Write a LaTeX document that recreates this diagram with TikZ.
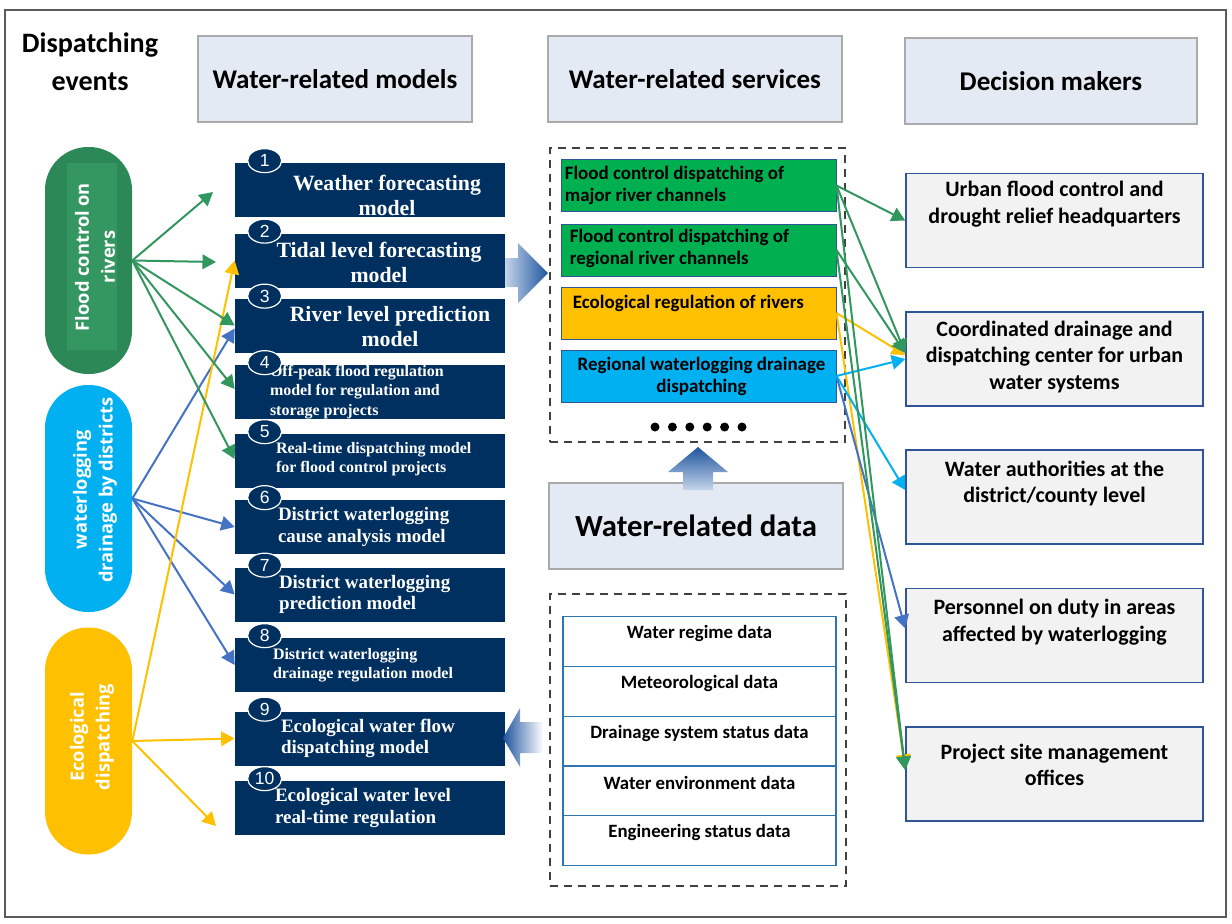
\documentclass[tikz,border=0pt]{standalone}
\usepackage{fontspec}
\setmainfont{Liberation Serif}
\setsansfont{Carlito}
\newfontfamily\pillfont{Open Sans}
\newfontfamily\numfont{Liberation Sans}
\usepackage{tikz}
\usetikzlibrary{positioning, arrows.meta, shapes.geometric}
\usepackage{xcolor}

\definecolor{navy}{RGB}{0,48,96}
\definecolor{headfill}{RGB}{228,234,243}
\definecolor{headline}{RGB}{170,170,170}
\definecolor{pillgreen}{RGB}{44,136,86}
\definecolor{pillgreenin}{RGB}{52,150,97}
\definecolor{pillcyan}{RGB}{0,176,240}
\definecolor{pillyellow}{RGB}{255,192,0}
\definecolor{srvgreen}{RGB}{0,176,80}
\definecolor{srvline}{RGB}{47,85,151}
\definecolor{rowline}{RGB}{46,117,182}
\definecolor{makerfill}{RGB}{242,242,242}
\definecolor{argreen}{RGB}{50,150,95}
\definecolor{arblue}{RGB}{68,114,196}
\definecolor{arrowdark}{RGB}{30,84,158}
\definecolor{arrowlight}{RGB}{196,212,234}
\definecolor{framegray}{RGB}{90,90,90}
\definecolor{dashgray}{RGB}{64,64,64}

\newdimen\pxu \pxu=0.02cm
\newcommand{\mbig}{\bfseries\fontsize{12.4}{14.2}\selectfont}
\newcommand{\mmid}{\bfseries\fontsize{10.8}{12.2}\selectfont}
\newcommand{\msmall}{\bfseries\fontsize{9.1}{11}\selectfont}

\begin{document}
\begin{tikzpicture}[x=0.02cm, y=-0.02cm]
    % Styles
    \tikzstyle{header} = [rectangle, draw=headline, fill=headfill, line width=1.2\pxu, minimum width=294\pxu, minimum height=86\pxu, font=\sffamily\bfseries\fontsize{15.4}{18}\selectfont]
    \tikzstyle{pill} = [rectangle, rounded corners=43\pxu, minimum width=87\pxu, minimum height=227\pxu]
    \tikzstyle{pilltext} = [rotate=90, text=white, align=center, font=\pillfont\bfseries\fontsize{10.4}{14.7}\selectfont]
    \tikzstyle{model} = [rectangle, fill=navy, minimum width=270\pxu, minimum height=54\pxu]
    \tikzstyle{mtext} = [text=white, align=center, inner sep=0pt]
    \tikzstyle{badge} = [ellipse, fill=navy, draw=white, line width=1.2\pxu, minimum width=34\pxu, minimum height=24\pxu, inner sep=0pt, text=white, font=\numfont\fontsize{10}{10}\selectfont]
    \tikzstyle{service} = [rectangle, draw=srvline, line width=1\pxu, minimum width=275\pxu, minimum height=52\pxu]
    \tikzstyle{stext} = [align=left, inner sep=0pt, font=\sffamily\bfseries\fontsize{10.8}{12.5}\selectfont]
    \tikzstyle{dashframe} = [rectangle, draw=dashgray, line width=2\pxu, dash pattern=on 8\pxu off 6\pxu]
    \tikzstyle{datarow} = [rectangle, draw=rowline, line width=1.2\pxu, minimum width=273\pxu, minimum height=49.8\pxu, outer sep=0pt]
    \tikzstyle{dtext} = [inner sep=0pt, font=\sffamily\bfseries\fontsize{10.7}{12}\selectfont]
    \tikzstyle{maker} = [rectangle, draw=srvline, fill=makerfill, line width=1.5\pxu, minimum width=297\pxu, minimum height=94\pxu]
    \tikzstyle{mkrtext} = [align=center, anchor=north, inner sep=0pt, font=\sffamily\bfseries\fontsize{12.5}{15.3}\selectfont]
    \tikzstyle{arrow} = [line width=2\pxu, -{Triangle[length=0.27cm, width=0.29cm]}]

    \useasboundingbox (0,0) rectangle (1232,924);
    \draw[framegray, line width=2\pxu] (5,10) rectangle (1226,917);

    % Title and headers
    \node[align=center, font=\sffamily\bfseries\fontsize{16}{21.5}\selectfont] (title) at (90,62) {Dispatching\\events};
    \node[header, minimum width=274\pxu] (hModels) at (335,79) {Water-related models};
    \node[header] (hServices) at (695,79) {Water-related services};
    \node[header, minimum width=292\pxu] (hMakers) at (1051,81) {Decision makers};
    \node[header, font=\sffamily\bfseries\fontsize{17.5}{20}\selectfont] (hData) at (696,526) {Water-related data};

    % Dispatching events
    \node[pill, fill=pillgreen] (pFlood) at (88.5,260.5) {};
    \fill[pillgreenin] (67,163) rectangle (117,350);
    \node[pilltext] (tFlood) at (95,257) {Flood control on\\rivers};
    \node[pill, fill=pillcyan] (pDrain) at (88.5,498.5) {};
    \node[pilltext] (tDrain) at (95,490) {waterlogging\\drainage by districts};
    \node[pill, fill=pillyellow] (pEco) at (88.5,741) {};
    \node[pilltext] (tEco) at (92,737) {Ecological\\dispatching};

    % Models
    \node[model, label={[mtext, font=\mbig, xshift=17\pxu, yshift=-5\pxu]center:Weather forecasting\\model}] (m1) at (370,190) {};
    \node[model, label={[mtext, font=\mbig, xshift=9\pxu, yshift=-1.5\pxu]center:Tidal level forecasting\\model}] (m2) at (370,260.5) {};
    \node[model, label={[mtext, font=\mbig, xshift=20\pxu, yshift=-1.5\pxu]center:River level prediction\\model}] (m3) at (370,325.5) {};
    \node[model, label={[mtext, font=\msmall, align=left, anchor=west, xshift=35\pxu]west:Off-peak flood regulation\\model for regulation and\\storage projects}] (m4) at (370,392) {};
    \node[model, label={[mtext, font=\msmall, align=left, anchor=west, xshift=41\pxu, yshift=2\pxu]west:Real-time dispatching model\\for flood control projects}] (m5) at (370,461) {};
    \node[model, label={[mtext, font=\mmid, align=left, anchor=west, xshift=43\pxu]west:District waterlogging\\cause analysis model}] (m6) at (370,527) {};
    \node[model, label={[mtext, font=\mmid, align=left, anchor=west, xshift=44\pxu]west:District waterlogging\\prediction model}] (m7) at (370,594.5) {};
    \node[model, label={[mtext, font=\msmall, align=left, anchor=west, xshift=38\pxu]west:District waterlogging\\drainage regulation model}] (m8) at (370,665) {};
    \node[model, label={[mtext, font=\mmid, align=left, anchor=west, xshift=46\pxu]west:Ecological water flow\\dispatching model}] (m9) at (370,738.5) {};
    \node[model, label={[mtext, font=\mmid, align=left, anchor=west, xshift=40\pxu]west:Ecological water level\\real-time regulation}] (m10) at (370,808) {};
    \foreach \i in {1,...,10}
        \node[badge] (b\i) at ([xshift=30\pxu, yshift=2\pxu]m\i.north west) {\i};

    % Services
    \node[dashframe, minimum width=295\pxu, minimum height=294\pxu] (srvFrame) at (697.5,295) {};
    \node[service, fill=srvgreen, label={[stext, anchor=west, xshift=4\pxu]west:Flood control dispatching of\\major river channels}] (sMajor) at (698.5,185.5) {};
    \node[service, fill=srvgreen, label={[stext, anchor=west, xshift=9\pxu, yshift=2\pxu]west:Flood control dispatching of\\regional river channels}] (sRegional) at (698.5,250) {};
    \node[service, fill=pillyellow, label={[stext, anchor=west, xshift=12\pxu, yshift=10\pxu]west:Ecological regulation of rivers}] (sEco) at (698.5,313) {};
    \node[service, fill=pillcyan, label={[stext, align=center, xshift=3\pxu]center:Regional waterlogging drainage\\dispatching}] (sDrain) at (698.5,376) {};
    \foreach \k in {0,...,5}
        \fill (655+17.4*\k,427) circle[radius=4.5\pxu];

    % Data
    \node[dashframe, minimum width=296\pxu, minimum height=292\pxu] (dataFrame) at (698,740) {};
    \node[datarow, label={[dtext, yshift=8\pxu]center:Water regime data}] (dWater) at (699.5,641.5) {};
    \node[datarow, below=0pt of dWater, label={[dtext, yshift=8\pxu]center:Meteorological data}] (dMet) {};
    \node[datarow, below=0pt of dMet, label={[dtext, yshift=8\pxu]center:Drainage system status data}] (dDrain) {};
    \node[datarow, below=0pt of dDrain, label={[dtext, yshift=8\pxu]center:Water environment data}] (dEnv) {};
    \node[datarow, below=0pt of dEnv, label={[dtext, yshift=8\pxu]center:Engineering status data}] (dEng) {};

    % Decision makers
    \node[maker, label={[mkrtext, yshift=-8\pxu]north:Urban flood control and\\drought relief headquarters}] (dUrban) at (1054.5,220.5) {};
    \node[maker, label={[mkrtext, yshift=-9\pxu]north:Coordinated drainage and\\dispatching center for urban\\water systems}] (dCenter) at (1054.5,359) {};
    \node[maker, label={[mkrtext, yshift=-11\pxu]north:Water authorities at the\\district/county level}] (dDistrict) at (1054.5,497) {};
    \node[maker, label={[mkrtext, yshift=-11\pxu]north:Personnel on duty in areas\\affected by waterlogging}] (dDuty) at (1054.5,635.5) {};
    \node[maker, label={[mkrtext, yshift=-17\pxu]north:Project site management\\offices}] (dSite) at (1054.5,774) {};

    % Block arrows
    \shade[left color=arrowlight, right color=arrowdark] (505,258) -- (518,258) -- (518,243) -- (548,273) -- (518,303) -- (518,287) -- (505,287) -- cycle;
    \shade[left color=arrowdark, right color=white] (503,738) -- (520,708) -- (520,722) -- (543,722) -- (543,753) -- (520,753) -- (520,767) -- cycle;
    \shade[top color=arrowdark, bottom color=arrowlight] (698,447) -- (728,472) -- (713,472) -- (713,490) -- (683,490) -- (683,472) -- (668,472) -- cycle;

    % Paths
    \coordinate (gEnd1) at (213,192);
    \coordinate (gEnd2) at (216,262);
    \coordinate (yEnd3) at (216,826);
    \draw[arrow, arblue] (pDrain.east) -- ([yshift=-3\pxu]m3.west);
    \draw[arrow, arblue] (pDrain.east) -- (m6.west);
    \draw[arrow, arblue] (pDrain.east) -- (m7.west);
    \draw[arrow, arblue] (pDrain.east) -- (m8.west);
    \draw[arrow, pillyellow] (pEco.east) -- (m2.west);
    \draw[arrow, pillyellow] (pEco.east) -- (m9.west);
    \draw[arrow, pillyellow] (pEco.east) -- (yEnd3);
    \draw[arrow, argreen] (pFlood.east) -- (gEnd1);
    \draw[arrow, argreen] (pFlood.east) -- (gEnd2);
    \draw[arrow, argreen] (pFlood.east) -- (m3.west);
    \draw[arrow, argreen] (pFlood.east) -- ([yshift=3\pxu]m4.west);
    \draw[arrow, argreen] (pFlood.east) -- ([yshift=2\pxu]m5.west);

    \draw[arrow, pillyellow] (sEco.east) -- ([yshift=4\pxu]dCenter.west);
    \draw[arrow, pillyellow] (sEco.east) -- ([yshift=6\pxu]dSite.west);
    \draw[arrow, arblue] (sDrain.east) -- ([yshift=7\pxu]dDuty.west);
    \draw[arrow, pillcyan] (sDrain.east) -- (dCenter.west);
    \draw[arrow, pillcyan] (sDrain.east) -- ([yshift=7\pxu]dDistrict.west);
    \draw[arrow, argreen] (sMajor.east) -- (dUrban.west);
    \draw[arrow, argreen] (sMajor.east) -- ([yshift=6\pxu]dCenter.west);
    \draw[arrow, argreen] (sMajor.east) -- ([yshift=4\pxu]dSite.west);
    \draw[arrow, argreen] (sRegional.east) -- ([yshift=6\pxu]dCenter.west);
    \draw[arrow, argreen] (sRegional.east) -- ([yshift=4\pxu]dSite.west);

\end{tikzpicture}
\end{document}
